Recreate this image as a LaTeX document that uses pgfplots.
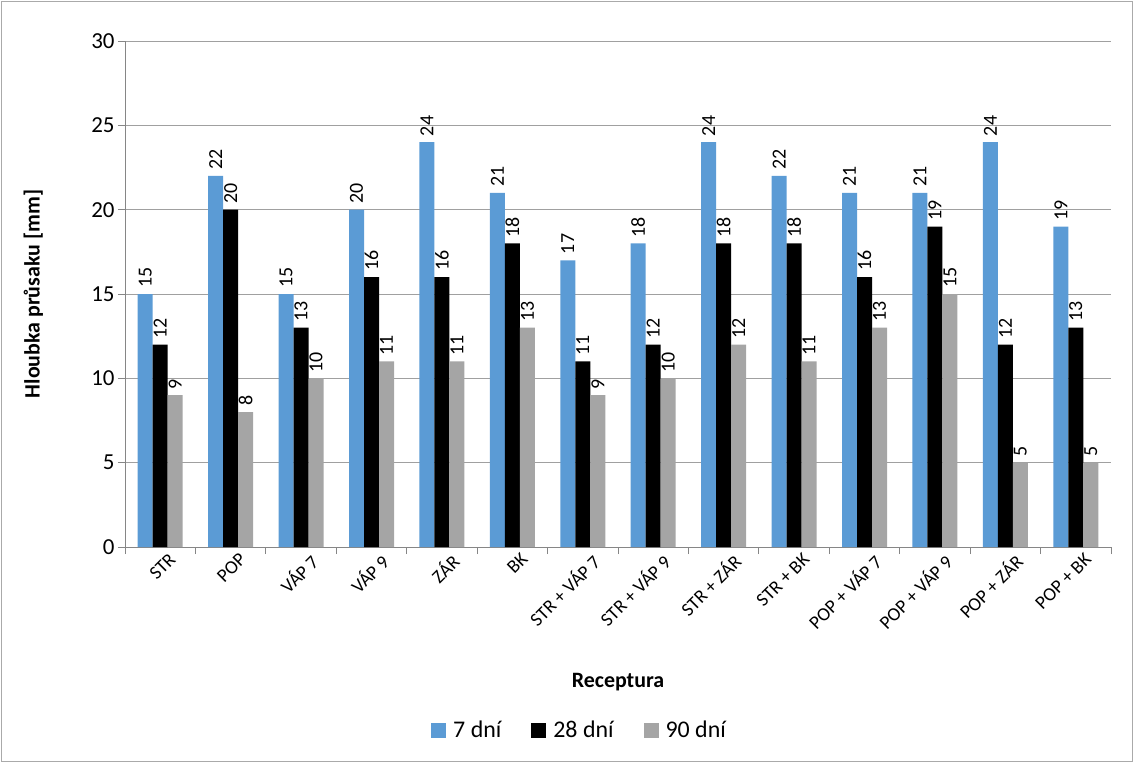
\documentclass[border=0pt]{standalone}
\usepackage{pgfplots}
\pgfplotsset{compat=1.18}
\usepackage{fontspec}
\setmainfont{Carlito}
\definecolor{cblue}{HTML}{5B9BD5}
\definecolor{cgray}{HTML}{A5A5A5}
\definecolor{axgray}{HTML}{868686}
\definecolor{gridgray}{HTML}{A0A0A0}
\begin{document}
\begin{tikzpicture}
\useasboundingbox (-125bp,-215bp) rectangle (1008bp,547bp);
\draw[axgray!70,line width=0.8bp] (-124bp,-214bp) rectangle (1007bp,546bp);
\begin{axis}[
  at={(0,0)}, anchor=south west,
  scale only axis, width=986bp, height=506bp,
  ybar=0pt, bar width=15bp,
  xmin=-0.5, xmax=13.5, ymin=0, ymax=30,
  ytick={0,5,...,30},
  xtick={0,...,13},
  xticklabels={STR,POP,VÁP 7,VÁP 9,ZÁR,BK,STR + VÁP 7,STR + VÁP 9,STR + ZÁR,STR + BK,POP + VÁP 7,POP + VÁP 9,POP + ZÁR,POP + BK},
  minor xtick={-0.5,0.5,...,13.5},
  major x tick style={draw=none},
  minor x tick style={draw=axgray, line width=0.8bp},
  minor tick length=7bp,
  ytick style={draw=axgray, line width=0.8bp},
  major tick length=7bp,
  tick align=outside,
  axis x line*=bottom, axis y line*=left,
  axis line style={draw=axgray, line width=0.8bp, -},
  ymajorgrids, grid style={draw=gridgray, line width=0.8bp},
  x tick label style={rotate=45, anchor=north east, font=\fontsize{19}{19}\selectfont, xshift=8bp, yshift=-3bp, inner sep=1bp},
  y tick label style={font=\fontsize{23}{23}\selectfont},
  /pgf/number format/assume math mode=true,
  xlabel={\textbf{Receptura}},
  xlabel style={at={(axis description cs:0.5,-0.267)}, anchor=center, font=\fontsize{22}{22}\selectfont},
  ylabel={\textbf{Hloubka průsaku [mm]}},
  ylabel style={at={(axis description cs:-0.093,0.5)}, anchor=center, font=\fontsize{22}{22}\selectfont},
  nodes near coords,
  every node near coord/.append style={rotate=90, anchor=west, font=\fontsize{20}{20}\selectfont, inner sep=0bp, xshift=6bp, yshift=0bp, text=black},
  legend style={at={(axis description cs:0.461,-0.362)}, anchor=center, draw=none, legend columns=3, font=\fontsize{24}{24}\selectfont,
    /tikz/every odd column/.append style={column sep=5bp},
    /tikz/every even column/.append style={column sep=28bp}},
  legend image code/.code={\fill[#1] (0bp,-7.5bp) rectangle (15bp,7.5bp);},
]
\addplot[fill=cblue, draw=none] coordinates {(0,15)(1,22)(2,15)(3,20)(4,24)(5,21)(6,17)(7,18)(8,24)(9,22)(10,21)(11,21)(12,24)(13,19)};
\addplot[fill=black, draw=none] coordinates {(0,12)(1,20)(2,13)(3,16)(4,16)(5,18)(6,11)(7,12)(8,18)(9,18)(10,16)(11,19)(12,12)(13,13)};
\addplot[fill=cgray, draw=none] coordinates {(0,9)(1,8)(2,10)(3,11)(4,11)(5,13)(6,9)(7,10)(8,12)(9,11)(10,13)(11,15)(12,5)(13,5)};
\legend{7 dní, 28 dní, 90 dní}
\end{axis}
\end{tikzpicture}
\end{document}
